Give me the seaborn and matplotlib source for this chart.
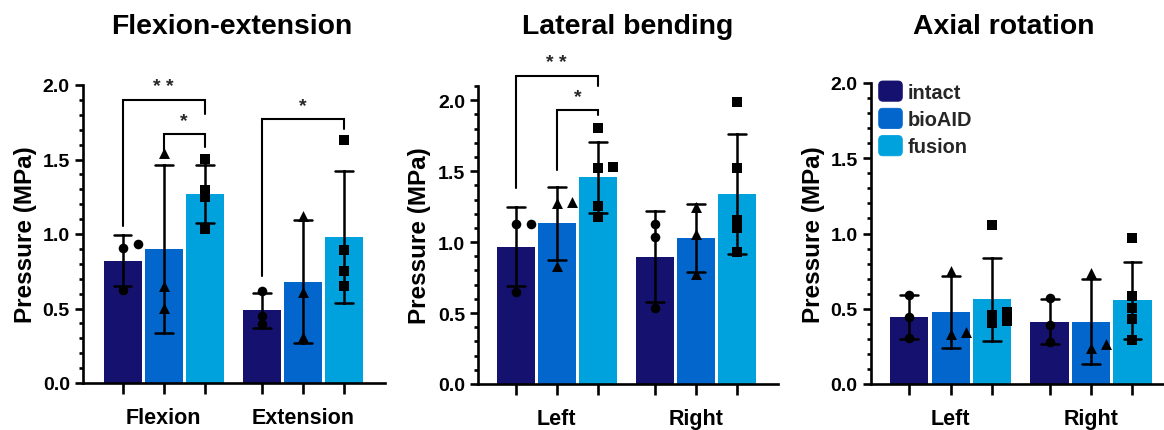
import numpy as np
import pandas as pd
import matplotlib
matplotlib.use("Agg")
import matplotlib.pyplot as plt
import seaborn as sns
from matplotlib.patches import Patch, FancyBboxPatch
from matplotlib.legend_handler import HandlerPatch
from matplotlib.ticker import MultipleLocator, FormatStrFormatter

# ---------------- data ----------------
groups = ["intact", "bioAID", "fusion"]
colors = ["#15126f", "#0366cc", "#00a2dd"]
markers = ["o", "^", "s"]
marker_sizes = [48, 62, 44]
panel_titles = ["Flexion-extension", "Lateral bending", "Axial rotation"]
panel_categories = [["Flexion", "Extension"], ["Left", "Right"], ["Left", "Right"]]

# raw measurements (MPa) per panel / category / group
flex_intact = [0.906, 0.933, 0.624]
flex_bioaid = [1.544, 0.653, 0.501]
flex_fusion = [1.506, 1.298, 1.248, 1.031]
ext_intact = [0.620, 0.447, 0.396]
ext_bioaid = [1.123, 0.608, 0.306]
ext_fusion = [1.631, 0.895, 0.749, 0.653]

lat_left_intact = [1.131, 1.127, 0.646]
lat_left_bioaid = [1.286, 1.275, 0.833]
lat_left_fusion = [1.531, 1.521, 1.805, 1.256, 1.174]
lat_right_intact = [1.127, 1.033, 0.533]
lat_right_bioaid = [1.249, 1.056, 0.775]
lat_right_fusion = [1.988, 1.155, 1.519, 1.099, 0.927]

rot_left_intact = [0.594, 0.443, 0.303]
rot_left_bioaid = [0.332, 0.348, 0.751]
rot_left_fusion = [0.405, 0.461, 1.056, 0.476, 0.421]
rot_right_intact = [0.574, 0.394, 0.277]
rot_right_bioaid = [0.237, 0.266, 0.740]
rot_right_fusion = [0.970, 0.585, 0.503, 0.434, 0.292]

panel_data = [
    [[flex_intact, flex_bioaid, flex_fusion], [ext_intact, ext_bioaid, ext_fusion]],
    [[lat_left_intact, lat_left_bioaid, lat_left_fusion],
     [lat_right_intact, lat_right_bioaid, lat_right_fusion]],
    [[rot_left_intact, rot_left_bioaid, rot_left_fusion],
     [rot_right_intact, rot_right_bioaid, rot_right_fusion]],
]

y_max = [2.0, 2.1, 2.0]

# significance brackets
sig_panel = [0, 0, 0, 1, 1]
sig_category = [0, 0, 1, 0, 0]
sig_from = ["intact", "bioAID", "intact", "intact", "bioAID"]
sig_to = ["fusion", "fusion", "fusion", "fusion", "fusion"]
sig_label = ["* *", "*", "*", "* *", "*"]
sig_top = [1.899, 1.669, 1.772, 2.167, 1.930]
sig_left_end = [1.056, 1.541, 0.720, 1.380, 1.509]
sig_right_end = [1.805, 1.582, 1.705, 2.100, 1.894]

# ---------------- style ----------------
sns.set_theme(style="ticks")
plt.rcParams["font.family"] = ["Liberation Sans", "DejaVu Sans"]
plt.rcParams["font.weight"] = "bold"
plt.rcParams["axes.labelweight"] = "bold"

W, H = 1164, 431
fig = plt.figure(figsize=(W / 100, H / 100), dpi=100)

# axes boxes in pixels: left, top, right, bottom
axes_px = [(83, 86, 385, 384), (478.3, 87, 778, 385), (870.7, 84, 1164, 385)]
xlims = [(-0.58, 1.59), (-0.564, 1.59), (-0.57, 1.52)]
title_x_px = [232, 628, 1004]
label_x = [-0.152, -0.157, -0.155]

LW = 1.9


def rounded(legend, orig_handle, xdescent, ydescent, width, height, fontsize):
    return FancyBboxPatch((-xdescent, -ydescent), width, height,
                          boxstyle="round,pad=0,rounding_size=3")


for p in range(3):
    l, t, r, b = axes_px[p]
    ax = fig.add_axes([l / W, 1 - b / H, (r - l) / W, (b - t) / H])
    cats = panel_categories[p]
    rows = []
    for ci, cat in enumerate(cats):
        for gi, g in enumerate(groups):
            for v in panel_data[p][ci][gi]:
                rows.append({"category": cat, "group": g, "value": v})
    df = pd.DataFrame(rows)

    sns.barplot(data=df, x="category", y="value", hue="group", order=cats,
                hue_order=groups, palette=colors, saturation=1,
                estimator="mean", errorbar="sd", capsize=0.38,
                err_kws={"color": "black", "linewidth": 1.8},
                width=0.885, gap=0.073, linewidth=0, dodge=True,
                legend=False, ax=ax)

    ax.set_xlim(*xlims[p])
    ax.set_ylim(0, y_max[p])

    # bar centres from the drawn patches
    bars = sorted(ax.patches, key=lambda bp: bp.get_x() + bp.get_width() / 2)
    centers = [bp.get_x() + bp.get_width() / 2 for bp in bars]

    # pixel scales
    px_per_x = (r - l) / (xlims[p][1] - xlims[p][0])
    px_per_y = (b - t) / y_max[p]
    dx = 15 / px_per_x
    thr = 7 / px_per_y

    for ci in range(len(cats)):
        for gi in range(3):
            xc = centers[ci * 3 + gi]
            vals = panel_data[p][ci][gi]
            placed = []
            xs, ys = [], []
            for v in sorted(vals):
                for off in [0, 1, -1, 2, -2]:
                    ok = all(not (po == off and abs(pv - v) < thr) for po, pv in placed)
                    if ok:
                        break
                placed.append((off, v))
                xs.append(xc + off * dx)
                ys.append(v)
            ax.scatter(xs, ys, marker=markers[gi], s=marker_sizes[gi],
                       color="black", linewidths=0, zorder=5, clip_on=False)

    # significance brackets
    for k in range(len(sig_panel)):
        if sig_panel[k] != p:
            continue
        ci = sig_category[k]
        x1 = centers[ci * 3 + groups.index(sig_from[k])]
        x2 = centers[ci * 3 + groups.index(sig_to[k])]
        ax.plot([x1, x1, x2, x2],
                [sig_left_end[k], sig_top[k], sig_top[k], sig_right_end[k]],
                color="black", linewidth=1.5, clip_on=False, zorder=6,
                solid_joinstyle="miter")
        ax.annotate(sig_label[k], xy=((x1 + x2) / 2, sig_top[k]),
                    xytext=(0, 6.5), textcoords="offset points",
                    ha="center", va="baseline", fontsize=14,
                    fontweight="bold", annotation_clip=False)

    # axes styling
    sns.despine(ax=ax)
    for s in ["left", "bottom"]:
        ax.spines[s].set_linewidth(LW)
        ax.spines[s].set_color("black")
    ax.yaxis.set_major_locator(MultipleLocator(0.5))
    ax.yaxis.set_minor_locator(MultipleLocator(0.1))
    ax.yaxis.set_major_formatter(FormatStrFormatter("%.1f"))
    ax.tick_params(axis="y", which="major", length=5.5, width=LW, pad=4,
                   labelsize=14, color="black", labelcolor="black")
    ax.tick_params(axis="y", which="minor", length=3.2, width=LW, color="black")
    for lab in ax.get_yticklabels():
        lab.set_fontweight("bold")

    ax.xaxis.remove_overlapping_locs = False
    ax.set_xticks(centers)
    ax.set_xticklabels([""] * len(centers))
    ax.set_xticks(range(len(cats)), minor=True)
    ax.set_xticklabels(cats, minor=True, fontsize=15.5, fontweight="bold")
    ax.tick_params(axis="x", which="major", length=8, width=LW, color="black")
    ax.tick_params(axis="x", which="minor", length=0, pad=17, labelcolor="black")

    ax.set_xlabel("")
    ax.set_ylabel("Pressure (MPa)", fontsize=17.5, fontweight="bold", color="black")
    ax.yaxis.set_label_coords(label_x[p], 0.5)

    fig.text(title_x_px[p] / W, 1 - 34.5 / H, panel_titles[p], ha="center",
             va="baseline", fontsize=20.4, fontweight="bold", color="black")

    if p == 2:
        handles = [Patch(facecolor=c, edgecolor=c, linewidth=0.6) for c in colors]
        leg = ax.legend(handles, groups, loc="upper left",
                        bbox_to_anchor=(8 / (r - l), 1 + 2 / (b - t)),
                        frameon=False, borderpad=0, borderaxespad=0,
                        handlelength=1.18, handleheight=1.18,
                        handletextpad=0.25, labelspacing=0.32,
                        prop={"size": 14.4, "weight": "bold"},
                        handler_map={Patch: HandlerPatch(patch_func=rounded)})

fig.savefig("out.png", dpi=100)
